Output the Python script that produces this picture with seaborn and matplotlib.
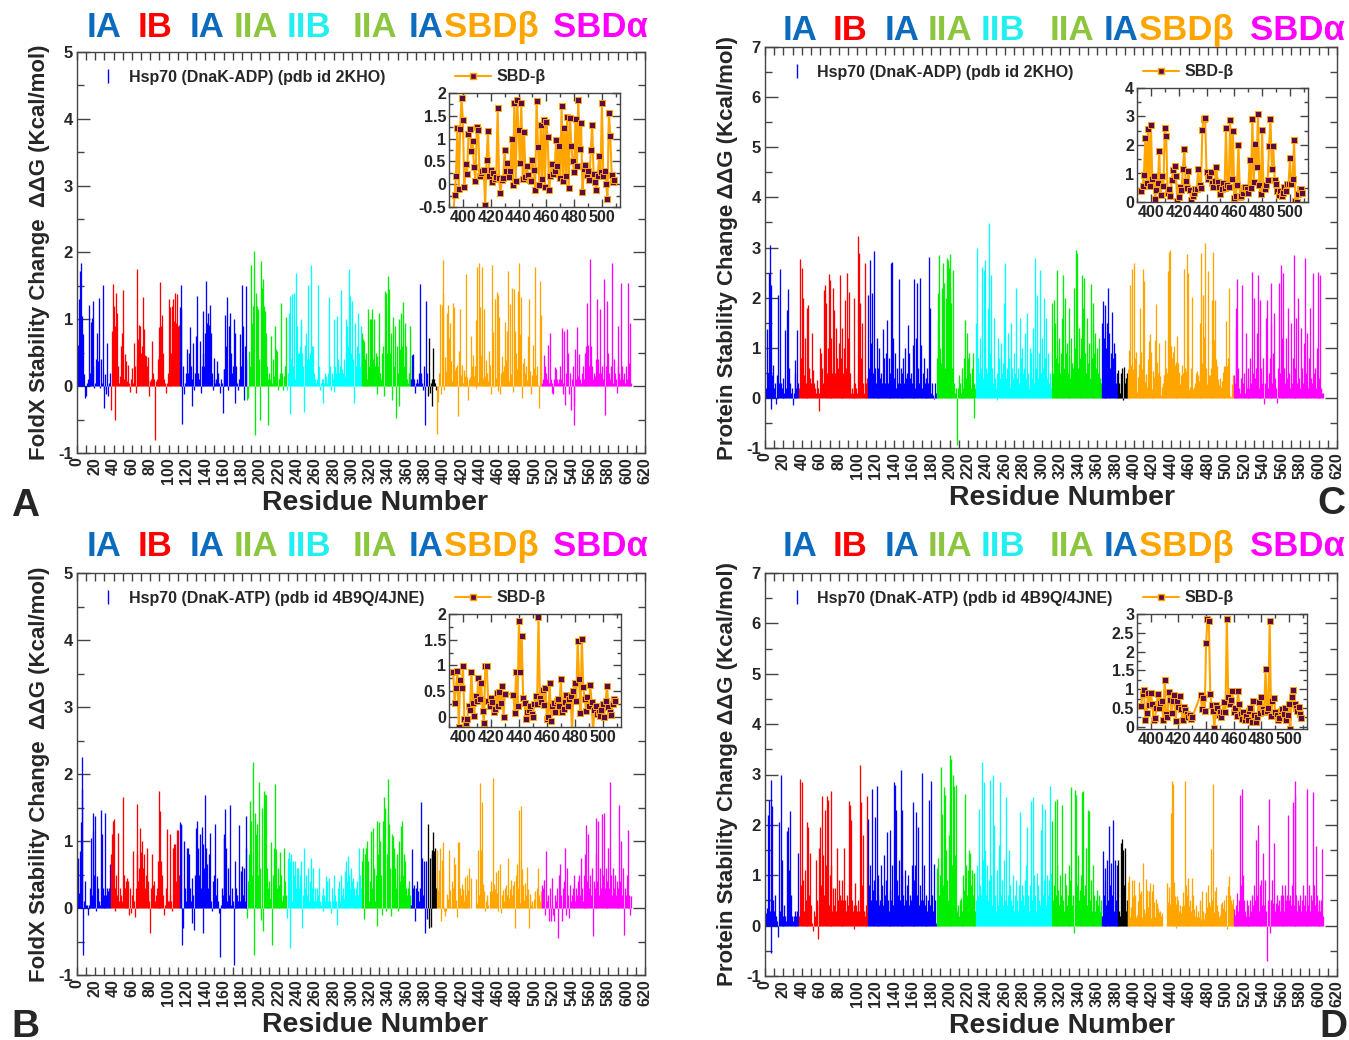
import numpy as np
import matplotlib
matplotlib.use("Agg")
import matplotlib.pyplot as plt
import seaborn as sns
from matplotlib.lines import Line2D
from matplotlib.ticker import MultipleLocator, FuncFormatter

nan = np.nan

# Hsp70 domain map (first / last residue), shared by all four panels
domain_start = [1, 37, 112, 186, 229, 311, 365, 383, 393, 508]
domain_end = [36, 111, 185, 228, 310, 364, 382, 392, 507, 605]
domain_colors = ["#0000ff", "#ff0000", "#0000ff", "#00ee00", "#00ffff",
                 "#00ee00", "#0000ff", "#000000", "#ffa500", "#ff00ff"]

domain_labels = ["IA", "IB", "IA", "IIA", "IIB", "IIA", "IA", "SBDβ", "SBDα"]
domain_label_colors = ["#0d6bbd", "#ff0000", "#0d6bbd", "#8cc63f", "#22f0f0",
                       "#8cc63f", "#0d6bbd", "#ffa500", "#ff00ff"]

# A: FoldX, DnaK-ADP (2KHO)  -- one value per residue 1..605, rows of 20
ddg_adp_foldx = [
    0.62, 1.3, 1.72, 1.85, 0.15, 1.05, 0.78, 0.18, -0.18, -0.15, 0.05, 0.1, 1.22, 0.2, 0.96, 1.02, 0.3, 1.28, -0.03, 0.05,
    0.4, 0.8, 0.38, 1.32, -0.02, 0.4, 0.05, 1.52, -0.05, -0.32, 0.18, -0.12, 0.65, -0.15, 0.05, 0.2, -0.35, 0.82, 1.53, 1.2,
    0.9, -0.5, 1.4, 1.1, 0.3, 0.05, 0.15, 0.6, 0.8, 1.44, 0.1, 0.48, 0.38, 0.1, 0.08, 0.32, 0.05, -0.08, 0.1, 0.27,
    0.05, 0.65, 0.3, -0.1, 0.4, 1.76, 0.7, 0.92, 0.9, 0.5, 0.6, 1.33, 0.85, 0.47, 0.45, 0.3, 0.44, 0.1, -0.15, 0.08,
    0.1, 0.67, 0.2, 0.1, -0.8, 0.08, 0.1, 0.4, 0.88, 0.45, 1.56, 0.9, 1.07, 0.5, 0.1, 0.05, -0.1, 0.05, 0.2, 1.31,
    0.08, 1.18, 0.5, 1.2, 1.3, 0.98, 1.4, 0.95, 1.38, 0.9, 0.92, 1.18, 1.15, 1.52, -0.57, 0.3, -0.12, 0.05, 0.2, 0.55,
    0.2, 0.5, 0.88, 0.3, 0.1, -0.3, 0.65, -0.05, 0.2, 0.75, 1.35, 0.2, 0.1, 0.67, -0.1, 0.3, 1.12, 0.5, 0.3, 0.8,
    1.57, 0.95, 1.1, 0.92, 1.22, 0.8, 0.2, -0.05, 0.1, 0.42, 0.05, 0.1, 0.38, 0.2, 0.05, -0.1, 0.1, 0.05, -0.4, 0.25,
    0.25, 1.07, 0.6, 1.33, -0.05, 0.9, 1.1, 0.5, 0.2, 0.3, 1.0, -0.25, 0.8, 0.3, 0.05, -0.05, 0.1, 0.78, 0.3, 1.52,
    0.9, -0.2, 0.6, 0.4, 1.5, -0.2, -0.18, 0.52, 0.3, 1.82, 0.95, 1.2, 2.02, -0.73, 1.4, 1.2, 0.9, 1.15, 0.4, -0.5,
    1.87, 1.47, 1.6, 1.2, 1.12, 0.8, 0.3, 0.1, -0.58, 0.2, 0.1, 0.75, 0.05, 0.4, 0.15, 0.9, 0.55, 0.52, -0.05, 0.1,
    0.1, 0.2, 1.25, 0.2, -0.05, 0.15, 0.3, 1.03, -0.05, 0.2, 1.1, 1.35, -0.42, 0.4, 1.38, 0.3, 1.4, 0.1, 1.7, 0.9,
    0.5, 0.5, 0.6, 1.0, 0.9, 0.5, 0.3, -0.38, 0.62, 0.8, 0.4, 1.52, 0.4, 0.5, 1.82, 0.6, 0.3, 0.6, 0.2, 0.1,
    0.05, 0.1, 1.52, 0.3, -0.05, 0.05, 0.1, -0.25, 0.1, 0.05, 0.2, 0.15, 0.05, 0.2, 1.33, 0.3, -0.05, 0.2, 0.1, 1.0,
    -0.08, 0.3, 0.2, 1.05, 0.4, 0.2, 0.3, 1.44, 0.25, 0.2, 0.4, 0.15, 0.1, 1.0, 0.9, 0.6, 1.75, 1.35, 0.5, 1.28,
    0.4, -0.25, 0.95, 0.3, 0.2, 0.6, 1.1, 0.5, 0.3, 0.9, 0.8, 0.7, 0.68, 0.4, 0.2, 0.5, 0.1, 1.15, 0.3, 1.0,
    1.0, 1.15, 0.4, 1.0, 0.3, 0.5, -0.12, 0.45, 0.3, 1.1, 0.2, 0.1, 0.5, 0.6, -0.15, 1.42, 1.4, 0.5, 1.2, 1.65,
    1.45, 0.5, 0.8, -0.2, 1.04, 0.3, 0.9, -0.47, 0.6, 0.2, 1.0, -0.3, 0.55, 1.1, 0.6, 1.26, 0.3, 0.95, 0.6, 0.1,
    0.05, 0.2, 0.3, 0.9, 0.1, 0.47, 0.48, 0.1, -0.1, 0.05, 0.1, 0.05, 0.2, 1.53, 0.2, 0.1, 0.05, -0.05, 0.3, -0.58,
    1.27, 0.2, -0.15, 0.72, -0.1, 0.05, 0.1, -0.3, 0.57, 0.1, 0.05, -0.05, -0.72, -0.24, 0.19, 1.23, -0.11, 1.21, 1.89, 1.4,
    -0.06, 0.44, 0.23, 1.09, 1.22, 0.72, 0.94, 0.37, 0.07, 1.25, 1.19, 0.17, 0.24, 0.28, 0.31, -0.45, 0.52, 1.16, 0.17, 0.31,
    0.04, 0.24, 0.12, 0.15, 1.68, 0.13, -0.2, 0.1, 0.14, 0.75, 0.3, 0.46, 0.15, 0.3, 0.99, -0.02, 1.79, 0.06, 1.84, 1.18,
    0.46, 1.78, 0.12, 1.15, 0.15, 0.39, 0.2, 0.1, 0.08, 0.52, 0.31, -0.12, 1.82, 0.81, -0.01, 1.3, 0.12, 1.41, -0.07, 1.36,
    1.03, -0.12, 0.19, 0.45, 0.22, 0.3, 0.96, 0.39, 0.83, 0.14, 1.72, 0.08, 1.23, 0.18, 1.47, -0.09, 1.46, 0.83, 0.5, 0.26,
    1.43, 0.39, 1.84, 0.78, 1.34, -0.18, 0.34, 0.42, 0.2, 0.3, 0.09, 0.75, 1.3, 0.22, 0.04, -0.12, 0.17, 0.61, 0.27, 1.78,
    0.17, 0.3, 0.01, -0.33, 1.57, 1.06, 0.2, 0.05, 0.1, 0.47, 0.3, 0.2, 0.1, 0.62, 0.05, 0.8, 0.1, -0.1, 0.05, -0.12,
    0.1, 0.28, 0.25, 0.1, 0.05, 0.1, 0.3, 0.1, 0.87, 0.05, -0.12, 0.82, -0.28, 0.2, 0.85, 0.5, -0.12, 0.2, -0.35, 0.1,
    0.3, -0.58, -0.3, 0.55, 0.1, 0.88, 0.15, 0.48, 0.1, 0.05, 0.2, 0.3, 0.1, 0.5, 0.1, 0.6, 1.25, 0.62, 0.3, 1.9,
    0.6, 0.3, 0.1, 0.2, 0.15, 0.4, 0.1, 1.3, 0.4, 0.2, 1.15, 0.2, 0.3, 0.1, 1.6, -0.43, 0.3, 0.2, 1.27, 0.5,
    0.2, 0.1, 0.3, 1.84, 0.05, 0.4, 0.2, 0.1, -0.1, 0.9, 0.3, 0.2, 0.1, 1.55, 0.3, 0.1, 0.2, 0.05, 0.3, 0.1,
    1.55, 0.35, 0.1, 0.95, 0.05,
]

# B: FoldX, DnaK-ATP (4B9Q/4JNE)
ddg_atp_foldx = [
    0.75, 0.22, 0.85, 1.28, 2.25, 1.77, -0.7, 0.1, 0.4, 0.05, 0.05, -0.1, 0.05, 0.3, 1.04, 0.2, 1.42, 1.15, 0.5, 1.37,
    -0.05, 0.48, 0.3, 0.1, 0.05, 1.47, 1.1, 0.3, 0.2, 0.1, 1.42, 0.2, 0.3, 0.25, 0.3, 0.65, 0.8, 1.1, 1.3, 1.33,
    -0.05, 0.3, 0.5, 0.2, 1.12, 0.1, 0.3, 0.2, 0.1, 1.65, 0.5, 0.3, 0.1, 0.4, 0.45, 0.4, -0.1, 0.3, -0.08, 0.2,
    0.85, 0.1, -0.13, 0.3, 1.55, 0.8, 0.4, 0.6, 1.2, 0.83, 1.0, 0.6, 0.8, 0.3, 0.5, 0.9, 0.4, 0.2, 0.1, -0.38,
    0.3, 0.8, 0.35, 0.4, 0.1, 0.2, 0.3, 0.7, 0.2, 1.75, 1.45, 0.7, 0.5, 0.2, -0.1, 0.05, 0.3, 1.18, 0.1, 0.1,
    0.2, 1.1, 0.1, -0.05, 0.9, 0.95, 0.96, 0.4, 1.17, 1.16, 0.5, 1.28, 1.22, 1.25, -0.55, -0.3, 1.0, 0.3, 0.1, 0.9,
    0.9, 0.8, 0.3, 0.1, -0.22, 0.45, 0.2, -0.33, 0.5, 1.2, 1.3, 0.9, 0.5, 1.1, 0.3, 1.21, -0.38, 0.95, 0.6, 1.68,
    0.9, 0.65, 0.3, 0.8, 1.12, 0.1, -0.05, 0.4, 0.2, 0.5, 1.25, 0.2, 0.45, 0.1, -0.07, -0.73, 0.05, 0.3, 0.2, 1.05,
    1.1, 1.48, 0.9, 0.1, 0.6, 0.2, 1.53, 0.05, 0.3, 0.1, -0.85, 0.7, 0.05, 0.3, 0.2, 0.1, 1.24, 0.1, 0.55, 0.62,
    0.2, 0.6, 0.1, 1.37, 0.9, -0.15, 0.4, 0.8, 1.6, 1.3, 0.5, 2.18, -0.7, 1.42, 1.1, 0.85, 1.25, 0.5, 1.88, 0.6,
    -0.18, 1.5, -0.35, 1.75, 1.7, 1.68, 0.6, 0.3, 0.2, 0.4, 0.15, 0.98, -0.55, 0.5, 0.9, 1.85, 0.88, 0.3, 0.6, 0.35,
    0.3, 0.83, 0.5, 0.1, 0.2, 0.9, 0.4, 0.2, -0.15, 0.75, 0.83, -0.6, 0.7, 0.8, 0.1, 0.7, 0.5, 0.7, 0.3, 0.6,
    0.6, 0.3, 0.5, 0.7, 0.4, -0.3, 0.2, 0.9, 0.3, 0.5, 0.2, 0.6, 0.1, 0.4, 0.75, 0.3, 0.2, 0.6, 0.1, 0.3,
    0.1, 0.3, 0.2, 0.6, 0.1, 0.05, 0.2, -0.05, 0.3, 0.2, 0.1, 0.48, 0.4, 0.1, 0.45, 0.1, -0.07, 0.3, 0.1, 0.2,
    0.5, 0.2, 0.1, -0.25, 0.3, 0.4, 0.1, 0.5, 0.2, 0.3, 0.15, 0.1, 0.55, 0.7, 0.4, 0.78, 0.5, 0.3, 0.6, 0.4,
    0.45, 0.3, 0.2, 0.1, 0.3, 0.4, 0.2, 0.9, 0.5, 0.3, 0.7, 0.9, -0.17, 0.8, 0.4, 0.9, 1.0, 0.7, 0.1, 0.4,
    1.15, 0.3, 1.2, 0.6, 0.1, 0.5, -0.27, 1.3, 0.8, 1.28, 1.0, 0.5, -0.1, 1.3, 1.65, 1.5, -0.05, 0.8, 1.92, 1.4,
    1.25, 0.6, -0.12, 1.1, 1.08, 0.9, 0.6, 0.3, 0.8, -0.05, 0.5, 1.0, 0.4, 1.22, 1.3, 0.5, 0.8, 0.7, 0.3, 0.2,
    0.3, 0.4, 0.2, 0.1, 0.05, 0.88, 0.3, 0.35, -0.2, 0.3, 0.4, 0.25, 0.1, 0.3, 1.58, 0.3, 0.75, 0.2, 0.7, -0.37,
    0.7, -0.17, 1.26, -0.3, 0.75, -0.28, 0.8, 0.87, 1.13, 0.85, 0.9, 0.3, 0.87, 0.27, 0.56, 0.89, -0.2, 0.71, 0.56, 0.98,
    -0.05, -0.12, -0.05, 0.21, 0.13, 0.87, 0.27, 0.01, 0.4, 0.3, 0.76, 0.35, 0.66, 0.12, -0.13, 0.99, 0.98, 0.3, 0.2, 0.36,
    0.28, 0.1, 0.15, 0.47, 0.2, 0.49, 0.27, 0.6, 0.0, 0.45, nan, nan, nan, nan, nan, 0.43, 0.08, 0.87, 0.2, 1.87,
    0.87, 1.58, 0.36, 0.26, -0.05, 0.1, 0.13, 0.2, 0.05, 0.0, 0.25, 0.4, 0.25, 1.94, 0.36, 0.29, 0.53, 0.22, 0.56, -0.05,
    0.0, 0.66, -0.08, 0.2, 0.27, 0.1, 0.3, 0.34, 0.2, 0.74, 0.09, 0.15, 0.29, 0.42, 0.2, 0.35, 0.4, -0.3, 0.5, 0.66,
    0.3, 1.47, 0.74, 0.08, 1.52, 0.58, 0.35, 0.12, 0.38, 0.2, 0.61, 0.29, -0.3, 0.14, 0.21, 0.05, 0.1, 0.01, 0.14, 0.25,
    0.0, 0.3, 0.6, 0.19, 0.1, 0.03, 0.25, 0.35, 0.3, 0.42, -0.1, 0.85, 0.1, 0.2, -0.2, 0.3, -0.2, 0.05, 0.45, -0.1,
    -0.2, 0.2, 0.1, 0.3, -0.45, 0.5, 0.65, 0.2, -0.2, 0.3, 0.1, 0.4, 0.9, -0.1, 0.6, 0.2, -0.15, 0.35, 0.1, 0.2,
    0.3, 0.2, 0.5, 0.1, 0.3, 0.2, 0.4, 0.5, 0.2, 0.75, 0.3, 0.1, 0.5, 0.3, 0.8, 1.24, 0.4, 1.1, 0.3, 0.5,
    0.2, 0.6, -0.42, 0.4, 0.3, 0.8, 1.35, 0.4, 1.3, 0.2, 0.6, 0.3, 1.4, 0.5, 1.42, 0.3, 0.6, 0.2, 0.4, 0.9,
    0.3, 1.88, 0.5, 0.2, 0.6, 0.3, 0.5, 0.2, 0.4, 0.1, 0.3, 1.54, 0.4, 1.0, 0.2, 0.6, -0.4, 0.3, 0.2, 0.5,
    1.17, 0.2, 0.18, -0.1, 0.18,
]

# C: protein stability change, DnaK-ADP (2KHO)
ddg_adp_stab = [
    0.2, 1.38, 0.5, 2.5, 3.05, -0.22, 2.25, 0.45, 0.65, 0.2, 0.3, -0.12, 0.45, 2.05, 0.3, 2.57, 0.3, 0.2, 0.1, 0.4,
    0.1, 1.35, 0.2, 1.75, 2.17, 0.6, 0.3, 0.1, 0.2, -0.15, 0.1, 0.75, 0.5, 0.2, 1.35, 0.3, 0.2, 2.78, 0.8, 2.6,
    2.0, 0.45, 1.2, 0.3, 0.2, 1.8, 1.85, 0.6, 0.4, 0.3, 1.3, 0.55, 0.3, 0.2, 0.1, 0.35, 0.2, 0.1, -0.27, 1.0,
    0.9, 0.6, 0.3, 2.15, 2.25, 1.9, 0.5, 1.0, 2.47, 2.35, 1.2, 0.6, 0.5, 2.2, 1.75, 0.5, 1.4, 0.8, 0.6, 1.1,
    2.45, 0.8, 1.4, 0.3, 0.5, 1.0, 1.95, 0.6, 2.5, 1.2, 2.12, 0.5, 0.1, 0.2, 0.1, 0.3, 2.0, 0.3, 0.2, 0.1,
    3.22, 2.9, 1.9, 0.8, 1.5, 0.3, 0.1, 2.7, 0.3, 0.2, 0.4, 2.05, 0.6, 2.75, 1.1, 2.1, 0.5, 2.93, 0.6, 0.3,
    1.2, 0.6, 0.3, 1.0, 0.4, 0.5, 0.3, 1.38, 0.8, 0.3, 0.9, 1.55, 0.3, 0.8, 0.2, 0.5, 2.7, 2.72, 1.2, 0.4,
    0.9, 0.2, 0.6, 0.3, 2.38, 0.3, 0.6, 0.2, 0.5, 0.8, 0.3, 1.0, 0.4, 0.5, 1.45, 0.9, 0.4, 0.5, 0.3, 1.05,
    2.38, 0.3, 0.2, 1.2, 2.3, 0.6, 0.3, 2.4, 1.05, 0.2, 0.5, 0.8, 0.3, 0.2, 0.4, 0.6, 0.3, 2.82, 1.8, 0.1,
    0.3, 0.05, -0.02, 0.3, 0.1, 0.8, 1.5, 2.1, 2.85, 1.0, 0.7, 2.2, 2.7, 2.3, 0.6, 2.0, 2.8, 2.75, 2.6, 2.88,
    2.2, 1.9, 0.6, 2.55, 0.3, 0.1, 0.2, -0.95, 0.2, 0.45, 0.3, 0.1, 0.4, 0.6, 0.2, 0.8, 1.55, 0.4, 1.3, 0.8,
    0.9, 0.5, 0.2, 0.6, 0.9, -0.4, 0.3, 0.2, 1.5, 3.0, 0.8, 0.5, 1.2, 0.6, 2.62, 0.4, 2.55, 2.75, 1.0, 0.6,
    0.5, 1.8, 3.48, 0.9, 2.45, 0.6, 0.3, 1.6, 0.4, 0.2, -0.05, 0.5, 1.2, 0.8, 0.4, 1.1, 0.5, 0.7, 1.9, 2.7,
    0.4, 0.6, 1.3, 0.3, 0.8, 0.2, 1.5, 0.6, 0.4, 0.9, 0.5, 2.2, 0.4, 0.6, 0.3, 1.6, 0.8, 0.3, 1.0, 0.5,
    0.6, 1.3, 0.4, 1.7, 0.5, 0.2, 1.0, 0.9, 0.4, 1.4, 0.6, 0.3, 2.8, 0.6, 2.05, 0.4, 0.9, 2.55, 0.5, 1.2,
    0.6, 2.0, 0.3, 0.8, 1.6, 0.4, 0.9, 0.3, 0.5, 0.2, 1.9, 0.5, 1.95, 1.5, 0.8, 1.0, 2.55, 0.7, 1.2, 0.5,
    0.9, 1.6, 2.45, 0.6, 2.0, 0.9, 1.1, 0.5, 0.8, 1.8, 0.4, 1.2, 0.7, 0.6, 2.2, 1.0, 2.95, 2.9, 0.6, 1.4,
    0.8, 1.2, 0.5, 2.45, 1.8, 2.4, 0.9, 0.5, 1.6, 0.7, 1.1, 0.4, 2.28, 0.8, 1.9, 1.5, 0.9, 1.3, 0.6, 1.0,
    0.5, 1.2, 0.4, 0.3, 1.5, 1.93, 1.2, 0.5, 1.85, 1.0, 1.5, 2.2, 1.3, 0.6, 0.9, 1.72, 0.8, 1.1, 0.9, 0.3,
    0.2, 0.5, 0.55, 0.3, 0.1, 0.5, 0.6, -0.05, 0.62, 0.3, 0.4, 0.5, 0.37, 0.57, 0.96, 2.25, 0.65, 2.57, 0.57, 2.7,
    0.8, 0.92, 0.12, 0.41, 0.67, 1.79, 0.24, 0.91, 0.57, 2.58, 2.33, 0.31, 0.47, 0.21, 0.78, 1.14, 1.27, 0.91, 0.04, 0.18,
    0.53, 0.41, 1.16, 1.87, 0.72, 0.5, 1.1, 0.43, 0.06, 0.21, 0.3, 0.45, 0.45, 1.15, 0.6, 0.49, 2.54, 2.91, 2.96, 1.04,
    0.8, 0.92, 1.04, 0.65, 0.53, 0.72, 1.24, 0.7, 0.51, 0.27, 0.45, 0.65, 0.5, 2.58, 0.6, 0.53, 2.88, 0.8, 2.5, 0.15,
    0.21, 0.6, 2.01, 0.18, 0.21, 0.3, 0.5, 0.53, 0.45, 0.33, 1.49, 0.49, 2.9, 0.69, 2.05, 1.22, 3.09, 0.6, 0.27, 2.54,
    0.45, 0.45, 0.6, 0.77, 1.96, 2.91, 1.16, 1.95, 0.78, 0.63, 0.37, 0.25, 0.39, 0.21, 0.33, 0.51, 0.4, 0.63, 0.63, 1.54,
    0.63, 0.8, 2.19, 0.04, 0.01, 0.27, 0.45, 0.45, 0.3, 1.79, 1.4, 2.38, 0.6, 0.2, 0.1, 0.4, 2.25, 0.3, 0.5, 0.1,
    1.3, 0.2, 0.6, 0.4, 0.2, 0.8, 0.3, 2.52, 0.5, 2.0, 0.4, 0.6, 1.3, 2.45, 0.2, 0.5, 1.95, 0.6, 0.3, 0.8,
    -0.12, 0.3, 1.6, 1.95, 0.2, 0.5, 0.8, 2.3, 1.5, 0.3, 0.9, 1.7, 0.4, 0.2, -0.1, 0.6, 2.3, 0.5, 2.65, 1.2,
    0.4, 2.5, 0.6, 0.3, 1.2, 0.4, 1.8, 0.5, 0.2, 1.5, 0.3, 0.8, 2.85, 0.4, 0.6, 1.6, 0.3, 2.0, 0.4, 0.2,
    1.4, 0.6, 0.3, 1.1, 2.8, 0.5, 1.3, 0.3, 0.2, 0.8, 1.8, 0.4, 0.3, 2.5, 0.5, 0.6, 0.2, 1.0, 2.52, 0.4,
    0.3, 2.45, 0.2, 0.1, 0.1,
]

# D: protein stability change, DnaK-ATP (4B9Q/4JNE)
ddg_atp_stab = [
    0.25, 0.35, 2.2, 2.5, 0.3, 2.9, -0.55, 2.38, 0.5, 0.3, 0.6, 0.2, 0.1, -0.22, 2.05, 0.3, 3.0, 1.3, 0.2, 0.1,
    0.4, 0.2, 0.1, 1.88, 1.95, 1.1, 2.28, 0.6, 0.2, 0.1, 0.2, 0.3, 0.1, 0.2, 0.3, 1.45, 0.2, 2.92, 0.8, 2.85,
    0.9, 0.3, 1.1, 0.5, 0.4, 2.05, 1.95, 0.6, 1.45, 0.4, 0.05, -0.1, 0.3, 0.2, 1.3, 0.5, -0.27, 1.55, 0.4, 1.95,
    0.8, 2.58, 1.4, 0.6, 2.3, 1.2, 2.58, 2.5, 0.4, 1.0, 2.68, 1.2, 0.3, 0.75, 0.4, 0.75, 0.3, 1.55, 0.5, 0.9,
    0.6, 0.5, 0.3, 0.9, 0.5, 1.55, 0.5, 0.3, 0.6, 0.4, 2.48, 2.4, 2.1, 0.5, 0.3, 0.4, -0.07, 0.85, 0.4, 0.3,
    0.5, 0.3, 3.18, 2.45, 0.8, 1.8, 0.3, 0.2, 0.3, 0.4, 2.57, 2.12, 0.8, 1.2, 0.5, 2.72, 0.7, 0.9, 2.15, 0.5,
    2.78, 1.0, 0.6, 0.4, 0.5, 1.2, 0.8, 0.4, 1.4, 0.6, 0.9, 1.85, 0.5, 0.3, 1.9, 0.7, 0.5, 1.2, 0.4, 2.85,
    2.8, 2.3, 0.9, 0.6, 1.3, 0.5, 3.08, 2.3, 1.0, 0.6, 0.4, 1.1, 0.5, 0.8, 1.0, 0.4, 0.6, 0.5, 1.2, 2.45,
    0.5, 0.9, 1.2, 2.25, 0.6, 1.95, 0.4, 0.8, 0.5, 3.02, 0.5, 1.2, 0.4, 0.6, 0.02, 0.3, 0.5, 2.5, 0.4, 2.88,
    0.6, 0.3, 1.22, 0.5, 0.05, 1.15, 0.4, 1.35, 0.6, 1.0, 3.15, 2.22, 0.8, 2.75, 2.6, 1.5, 0.9, 0.5, 1.8, 2.4,
    3.38, 3.3, 1.2, 3.0, 2.78, 1.4, 2.8, 0.3, 0.4, 0.2, 0.5, 0.55, 0.3, 0.2, 1.0, 0.7, 2.62, 1.2, 0.6, 1.1,
    1.5, 1.45, 0.8, 1.1, 0.6, 1.05, 1.0, 0.3, 0.5, 1.2, 0.6, 2.32, 0.8, 0.6, 3.25, 1.3, 2.85, 0.7, 1.5, 0.6,
    1.2, 0.5, 0.9, 2.9, 1.0, 0.4, 3.0, 2.0, 0.6, 0.3, 1.1, 0.5, 0.4, 1.6, 2.85, 0.6, 0.9, 0.4, 1.3, 0.5,
    2.55, 0.4, 0.6, 1.5, 0.3, 0.8, 0.5, 0.4, 1.0, 0.3, 0.6, 0.9, 0.5, 0.3, 0.8, 2.25, 0.5, 0.3, 0.8, 0.6,
    0.4, 0.9, 1.2, 1.95, 0.6, 0.3, 0.8, 2.48, 0.5, 2.55, 0.4, 1.0, 0.6, 0.3, 1.05, 0.8, 0.5, 0.4, 1.9, 2.42,
    0.6, 0.9, 2.32, 0.5, 0.4, 1.0, 0.6, 0.9, 2.78, 1.05, 2.08, 0.5, 0.8, 2.48, 0.6, 1.2, 2.52, 0.7, 0.4, 1.0,
    0.6, 2.4, 0.5, 0.3, 1.05, 0.8, 0.4, 0.6, 0.5, 1.2, 0.9, 2.75, 0.4, 0.6, -0.15, 2.7, 2.6, 0.8, 1.4, 0.5,
    0.7, 1.0, 0.3, 2.65, 2.68, 0.6, 0.8, 1.55, 0.4, 2.3, 2.28, 0.5, 0.9, 0.3, 1.2, 0.4, 0.6, 0.3, 0.5, 0.7,
    0.4, 0.6, 0.3, 0.5, 0.2, 1.48, 0.6, 1.15, 0.9, 0.4, 1.3, 0.5, 1.97, 0.8, 1.25, 0.6, 2.1, 0.3, 1.3, 0.5,
    1.2, 0.4, 1.3, 0.3, 0.2, 1.65, 1.72, 1.5, 0.8, 1.55, 0.3, 0.5, 0.56, 0.86, 0.98, 0.18, 0.37, 0.9, 0.58, 0.9,
    0.6, 0.18, 0.22, 0.49, 0.86, 0.49, 0.62, 0.69, 0.18, 1.24, 0.33, 0.25, 0.92, 0.71, 0.36, 0.69, 0.85, 0.16, 0.68, 0.53,
    0.83, 0.47, 0.18, 0.53, 0.45, 0.35, 0.27, 0.3, 0.2, 0.25, nan, nan, nan, nan, nan, 0.85, 0.47, 0.76, 0.42, 2.23,
    2.87, 2.82, 0.86, 0.58, 0.42, -0.04, 0.58, 0.5, 0.3, 0.4, 0.25, 0.38, 0.67, 0.4, 2.87, 0.8, 0.6, 0.7, 0.95, 0.38,
    0.5, 0.29, 0.95, 0.6, 0.33, 0.2, 0.4, 0.18, 0.29, 0.18, 0.42, 0.51, 0.13, 0.69, 0.3, 0.13, 0.25, 0.67, 0.37, 0.8,
    0.47, 0.38, 1.53, 0.43, 0.5, 2.82, 0.28, 0.69, 0.76, 0.4, 0.3, 0.18, 0.22, 0.43, 0.47, 0.34, 0.51, 0.18, 0.3, 0.6,
    -0.06, 0.78, 0.98, 0.6, 0.5, 0.42, 0.52, 0.33, 0.22, 0.2, 0.4, 0.65, 0.3, 0.5, 2.6, 0.8, 2.72, 1.0, 0.5, 0.3,
    0.2, 0.5, 0.3, 0.4, 0.2, 0.5, 0.3, 0.6, 0.4, 0.8, 0.5, 1.7, 0.6, 2.0, 0.3, 0.8, 0.5, 0.9, 0.4, 1.45,
    0.4, 0.9, 0.3, -0.7, 0.5, 2.52, -0.15, 0.5, 0.3, 0.9, 0.45, 1.65, 0.3, 0.45, 0.6, 0.4, 0.5, 0.3, 0.6, 0.8,
    0.5, 0.6, 0.3, 0.8, 0.5, 0.6, 2.2, 0.5, 0.6, 0.4, 0.8, 2.45, 0.4, 2.6, 2.87, 0.6, 0.3, 0.5, 0.4, 0.6,
    0.3, 0.5, 0.8, 0.4, 0.6, 0.3, 2.72, 0.5, 0.4, 0.8, 0.3, 0.6, 0.5, 2.65, 0.8, 0.4, 1.58, 0.6, 0.3, 0.5,
    0.4, 0.3, 0.5, 1.52, 0.2,
]

sns.set_theme(style="ticks")
plt.rcParams["font.family"] = ["Liberation Sans", "DejaVu Sans"]
plt.rcParams["font.weight"] = "bold"
plt.rcParams["axes.labelweight"] = "bold"
plt.rcParams["axes.edgecolor"] = "#444444"
plt.rcParams["axes.linewidth"] = 1.0

W, H = 1349, 1040
fig = plt.figure(figsize=(W / 100, H / 100), dpi=100)


def px_rect(left, top, right, bottom):
    return [left / W, 1 - bottom / H, (right - left) / W, (bottom - top) / H]


fmt = FuncFormatter(lambda v, _: f"{v:g}")
label_x_left = [0.048, 0.137, 0.229, 0.315, 0.408, 0.525, 0.614, 0.729, 0.921]
label_x_right = [0.061, 0.149, 0.240, 0.323, 0.416, 0.537, 0.622, 0.736, 0.930]

panels = [
    dict(values=ddg_adp_foldx, rect=px_rect(77, 52, 645, 453), ylim=(-1, 5),
         ylabel="FoldX Stability Change  ΔΔG (Kcal/mol)",
         legend="Hsp70 (DnaK-ADP) (pdb id 2KHO)",
         inset=px_rect(449, 93, 620, 207), inset_ylim=(-0.5, 2), inset_step=0.5,
         letter="A", letter_xy=(25, 516), label_x=label_x_left, label_y=1.062, xlabel_x=0.525),
    dict(values=ddg_atp_foldx, rect=px_rect(77, 573, 645, 975), ylim=(-1, 5),
         ylabel="FoldX Stability Change  ΔΔG (Kcal/mol)",
         legend="Hsp70 (DnaK-ATP) (pdb id 4B9Q/4JNE)",
         inset=px_rect(449, 614, 621, 727), inset_ylim=(-0.2, 2), inset_step=0.5,
         letter="B", letter_xy=(25, 1037), label_x=label_x_left, label_y=1.067, xlabel_x=0.525),
    dict(values=ddg_adp_stab, rect=px_rect(765, 47, 1337, 448), ylim=(-1, 7),
         ylabel="Protein Stability Change ΔΔG (Kcal/mol)",
         legend="Hsp70 (DnaK-ADP) (pdb id 2KHO)",
         inset=px_rect(1137, 88, 1308, 202), inset_ylim=(0, 4), inset_step=1,
         letter="C", letter_xy=(1331, 514), label_x=label_x_right, label_y=1.042, xlabel_x=0.519),
    dict(values=ddg_atp_stab, rect=px_rect(765, 573, 1337, 976), ylim=(-1, 7),
         ylabel="Protein Stability Change ΔΔG (Kcal/mol)",
         legend="Hsp70 (DnaK-ATP) (pdb id 4B9Q/4JNE)",
         inset=px_rect(1137, 614, 1307, 729), inset_ylim=(-0.06, 3), inset_step=0.5,
         letter="D", letter_xy=(1333, 1037), label_x=label_x_right, label_y=1.065, xlabel_x=0.519),
]

line_orange = "#ffa500"
marker_fill = "#5a0a46"

for p in panels:
    vals = np.asarray(p["values"], dtype=float)
    res = np.arange(1, len(vals) + 1)

    ax = fig.add_axes(p["rect"])
    for start, end, color in zip(domain_start, domain_end, domain_colors):
        m = (res >= start) & (res <= end) & ~np.isnan(vals)
        ax.vlines(res[m], 0, vals[m], color=color, linewidth=0.95)

    ax.set_xlim(0, 620)
    ax.set_ylim(*p["ylim"])
    ax.xaxis.set_major_locator(MultipleLocator(20))
    ax.xaxis.set_minor_locator(MultipleLocator(10))
    ax.yaxis.set_major_locator(MultipleLocator(1))
    ax.yaxis.set_minor_locator(MultipleLocator(0.5))
    ax.xaxis.set_major_formatter(fmt)
    ax.yaxis.set_major_formatter(fmt)
    ax.tick_params(which="both", direction="in", top=True, right=True, width=1.0, color="#444444")
    ax.tick_params(axis="y", which="major", length=9)
    ax.tick_params(axis="y", which="minor", length=5)
    ax.tick_params(axis="x", which="both", length=6)
    ax.tick_params(axis="x", labelrotation=90, labelsize=11.5, pad=3)
    ax.tick_params(axis="y", labelsize=12, pad=3)
    for t in ax.get_xticklabels() + ax.get_yticklabels():
        t.set_fontweight("bold")
    ax.set_xlabel("Residue Number", fontsize=20.5, labelpad=4)
    ax.xaxis.set_label_coords(p["xlabel_x"], -0.092)
    ax.set_ylabel(p["ylabel"], fontsize=16, labelpad=6)

    handle = Line2D([], [], color="#0000ff", marker="|", linestyle="none",
                    markersize=10, markeredgewidth=1.0)
    ax.legend([handle], [p["legend"]], loc="upper left", bbox_to_anchor=(0.03, 0.972),
              frameon=False, prop=dict(size=11.5, weight="bold"),
              handlelength=1.0, handletextpad=0.8, borderaxespad=0)

    for text, color, xf in zip(domain_labels, domain_label_colors, p["label_x"]):
        ax.text(xf, p["label_y"], text, transform=ax.transAxes, color=color,
                fontsize=25, fontweight="bold", ha="center", va="center")

    fig.text(p["letter_xy"][0] / W, 1 - p["letter_xy"][1] / H, p["letter"],
             fontsize=28, fontweight="bold", ha="center", va="baseline")

    # SBD-beta inset, drawn from the same per-residue values
    ins = fig.add_axes(p["inset"])
    seg = (res >= 393) & (res <= 509) & ~np.isnan(vals)
    sns.lineplot(x=res[seg], y=vals[seg], ax=ins, color=line_orange, linewidth=1.5,
                 marker="s", markersize=4, markerfacecolor=marker_fill,
                 markeredgecolor=line_orange, markeredgewidth=0.7)
    ins.set_xlim(390, 513)
    ins.set_ylim(*p["inset_ylim"])
    ins.set_xlabel("")
    ins.set_ylabel("")
    ins.xaxis.set_major_locator(MultipleLocator(20))
    ins.xaxis.set_minor_locator(MultipleLocator(10))
    ins.yaxis.set_major_locator(MultipleLocator(p["inset_step"]))
    ins.yaxis.set_minor_locator(MultipleLocator(p["inset_step"] / 2))
    ins.xaxis.set_major_formatter(fmt)
    ins.yaxis.set_major_formatter(fmt)
    ins.tick_params(which="both", direction="in", top=True, right=True, width=1.0, color="#444444")
    ins.tick_params(which="major", length=6, labelsize=11.5, pad=2)
    ins.tick_params(which="minor", length=3)
    for t in ins.get_xticklabels() + ins.get_yticklabels():
        t.set_fontweight("bold")
    h2 = Line2D([], [], color=line_orange, linewidth=1.5, marker="s", markersize=4,
                markerfacecolor=marker_fill, markeredgecolor=line_orange)
    ins.legend([h2], ["SBD-β"], loc="lower left", bbox_to_anchor=(0.0, 1.02),
               frameon=False, prop=dict(size=11.5, weight="bold"),
               handlelength=2.2, handletextpad=0.4, borderaxespad=0)

fig.savefig("out.png", dpi=100)
